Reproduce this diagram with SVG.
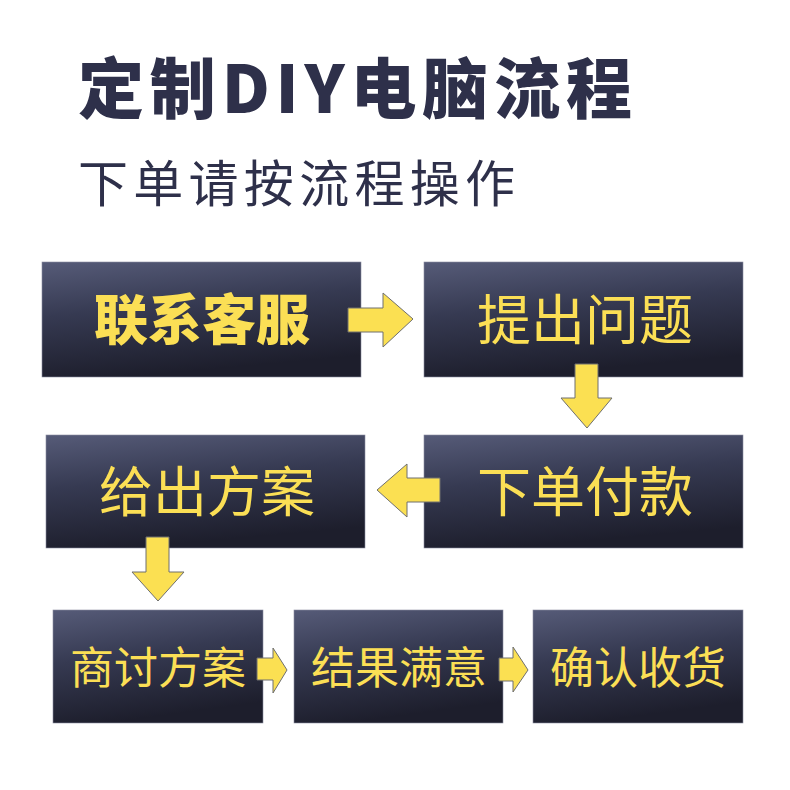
<svg xmlns="http://www.w3.org/2000/svg" width="790" height="790" viewBox="0 0 790 790">
<defs>
<linearGradient id="boxg" x1="0" y1="0" x2="0.25" y2="1">
<stop offset="0" stop-color="#565b78"/>
<stop offset="0.45" stop-color="#363a52"/>
<stop offset="1" stop-color="#1d1e2c"/>
</linearGradient>
<style>
.box{fill:url(#boxg);stroke:#8a8ca0;stroke-width:0.6}
.lbl{font-family:"Noto Sans CJK SC","Noto Sans",sans-serif;fill:#fbdf55;text-anchor:middle}
.arr{fill:#fbe052;stroke:#6f6f6f;stroke-width:1;stroke-linejoin:miter}
.ttl{font-family:"Noto Sans CJK SC","Noto Sans",sans-serif;fill:#2e304a}
</style>
</defs>
<rect width="790" height="790" fill="#ffffff"/>
<text class="ttl" x="78" y="113" font-size="66" font-weight="900" textLength="554" lengthAdjust="spacing">定制DIY电脑流程</text>
<text class="ttl" x="78" y="202" font-size="50" textLength="437" lengthAdjust="spacing">下单请按流程操作</text>

<g id="n1"><rect class="box" x="42" y="262" width="319" height="115"/><text class="lbl" x="202" y="340" font-size="54" font-weight="900">联系客服</text></g>
<g id="n2"><rect class="box" x="424" y="262" width="319" height="115"/><text class="lbl" x="585" y="340" font-size="54">提出问题</text></g>
<g id="n3"><rect class="box" x="424" y="435" width="319" height="113"/><text class="lbl" x="585" y="512" font-size="54">下单付款</text></g>
<g id="n4"><rect class="box" x="46" y="435" width="319" height="113"/><text class="lbl" x="207" y="512" font-size="54">给出方案</text></g>
<g id="n5"><rect class="box" x="53" y="610" width="210" height="113"/><text class="lbl" x="158" y="684" font-size="44">商讨方案</text></g>
<g id="n6"><rect class="box" x="294" y="610" width="209" height="113"/><text class="lbl" x="399" y="684" font-size="44">结果满意</text></g>
<g id="n7"><rect class="box" x="533" y="610" width="210" height="113"/><text class="lbl" x="638" y="684" font-size="44">确认收货</text></g>

<g id="connectors">
<polygon class="arr" points="348,308 383,308 383,293 413,319 383,347 383,332 348,332"/>
<polygon class="arr" points="575,364 598,364 598,398 612,398 587,428 561,398 575,398"/>
<polygon class="arr" points="440,478 407,478 407,464 377,490 407,517 407,502 440,502"/>
<polygon class="arr" points="146,537 169,537 169,572 184,572 158,601 132,572 146,572"/>
<polygon class="arr" points="257,658 273,658 273,648 287,670 273,693 273,680 257,680"/>
<polygon class="arr" points="499,658 513,658 513,647 528,670 513,692 513,681 499,681"/>
</g>
</svg>
